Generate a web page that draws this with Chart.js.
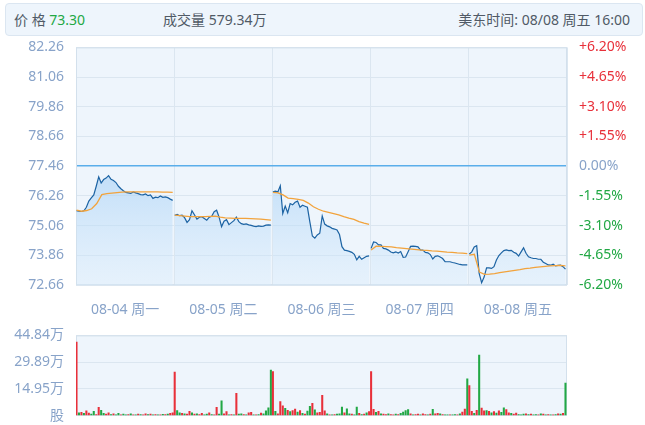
<!DOCTYPE html>
<html>
<head>
<meta charset="utf-8">
<script src="https://cdn.jsdelivr.net/npm/chart.js@4.4.1/dist/chart.umd.min.js"></script>
<style>
body{margin:0;background:#fff;font-family:"Noto Sans","Noto Sans CJK SC",sans-serif;}
#wrap{position:relative;width:645px;height:425px;overflow:hidden;}
#head{position:absolute;left:5px;top:3px;width:636px;height:31px;background:#eef5fc;border:1px solid #dbe6f1;border-radius:4px;font-size:14px;color:#505a66;line-height:31px;}
#head span{position:absolute;top:0;white-space:nowrap;}
.up{color:#e8303a}.dn{color:#22a845}
#price{position:absolute;left:0;top:27px;}
#vol{position:absolute;left:0;top:315px;}
</style>
</head>
<body>
<div id="wrap">
  <div id="head">
    <span style="left:8px">价 格 <b class="dn" style="font-weight:normal">73.30</b></span>
    <span style="left:157px">成交量 579.34万</span>
    <span style="right:12px">美东时间: 08/08 周五 16:00</span>
  </div>
  <canvas id="price" width="645" height="298"></canvas>
  <canvas id="vol" width="645" height="121"></canvas>
</div>
<script>
// 기본 데이터
const prevClose = 77.46;
const dayLabels = ['08-04 周一', '08-05 周二', '08-06 周三', '08-07 周四', '08-08 周五'];
const yTicks = [72.66, 73.86, 75.06, 76.26, 77.46, 78.66, 79.86, 81.06, 82.26];
const volTicks = [0, 14.95, 29.89, 44.84];

// 분시 가격 (일별)
const day1Price = [75.66, 75.64, 75.63, 75.66, 75.80, 76.05, 76.18, 76.30, 76.65, 77.03,
  76.78, 76.92, 76.98, 77.08, 76.93, 76.88, 76.80, 76.65, 76.55, 76.47,
  76.40, 76.38, 76.36, 76.42, 76.38, 76.35, 76.31, 76.30, 76.34, 76.27,
  76.30, 76.16, 76.21, 76.19, 76.26, 76.20, 76.22, 76.19, 76.13, 76.08];
const day2Price = [75.48, 75.51, 75.46, 75.48, 75.38, 75.19, 75.30, 75.66, 75.50, 75.32,
  75.40, 75.42, 75.35, 75.28, 75.40, 75.44, 75.62, 75.68, 75.40, 75.02,
  75.24, 75.30, 75.10, 75.18, 75.26, 75.40, 75.22, 75.14, 75.11, 75.13,
  75.09, 75.07, 75.04, 75.02, 75.05, 75.03, 75.04, 75.08, 75.09, 75.08];
const day3Price = [76.42, 76.45, 76.42, 76.67, 75.55, 75.85, 75.58, 75.95, 75.90, 76.00,
  76.05, 75.80, 75.88, 75.84, 75.80, 75.20, 74.64, 74.55, 74.68, 74.75,
  75.45, 75.12, 75.05, 75.01, 74.95, 74.92, 74.88, 74.70, 74.21, 74.07,
  74.05, 74.02, 73.98, 73.90, 73.68, 73.82, 73.70, 73.76, 73.82, 73.84];
const day4Price = [74.14, 74.40, 74.38, 74.28, 74.28, 74.14, 74.12, 74.07, 73.99, 73.96,
  74.00, 73.95, 74.01, 73.78, 73.79, 74.00, 74.22, 74.23, 74.22, 74.20,
  74.08, 74.07, 73.98, 73.96, 73.89, 73.71, 73.82, 73.84, 73.79, 73.73,
  73.60, 73.60, 73.60, 73.57, 73.55, 73.52, 73.49, 73.47, 73.47, 73.47];
const day5Price = [73.91, 74.00, 74.20, 74.25, 73.13, 72.75, 72.98, 73.35, 73.35, 73.33,
  73.40, 73.67, 73.85, 73.96, 74.05, 74.08, 74.05, 74.06, 73.98, 73.94,
  73.83, 74.00, 74.16, 73.94, 73.80, 73.76, 73.73, 73.73, 73.70, 73.70,
  73.58, 73.53, 73.47, 73.46, 73.50, 73.43, 73.45, 73.46, 73.40, 73.30];

// 균가선
const day1Avg = [75.69, 75.64, 75.67, 75.74, 75.95, 76.31, 76.35, 76.37, 76.39, 76.41,
  76.42, 76.42, 76.42, 76.42, 76.42, 76.42, 76.42, 76.41, 76.41, 76.40];
const day2Avg = [75.48, 75.46, 75.44, 75.42, 75.42, 75.42, 75.42, 75.43, 75.44, 75.40,
  75.37, 75.36, 75.35, 75.35, 75.35, 75.34, 75.33, 75.32, 75.30, 75.28];
const day3Avg = [76.40, 76.38, 76.30, 76.17, 76.15, 76.12, 76.08, 75.97, 75.82, 75.72,
  75.64, 75.59, 75.54, 75.49, 75.42, 75.36, 75.31, 75.22, 75.16, 75.11];
const day4Avg = [74.07, 74.23, 74.22, 74.21, 74.20, 74.17, 74.15, 74.13, 74.11, 74.09,
  74.07, 74.06, 74.04, 74.03, 74.01, 73.99, 73.98, 73.96, 73.95, 73.93];
const day5Avg = [73.87, 73.90, 73.18, 73.09, 73.10, 73.12, 73.16, 73.19, 73.22, 73.25,
  73.28, 73.32, 73.34, 73.37, 73.39, 73.41, 73.43, 73.44, 73.45, 73.43];

// 거래량(万) 과 방향 r=상승 g=하락
const day1Vol = [41.1, 1.5, 1.8, 1.2, 2.6, 1.4, 0.8, 2.4, 0.6, 4.6, 3.0, 1.2, 0.8, 1.5, 0.6, 1.0, 0.5, 1.2, 0.4, 0.8,
  0.5, 0.6, 1.0, 0.4, 0.5, 0.8, 0.6, 0.5, 1.0, 0.6, 0.8, 0.5, 0.6, 0.4, 0.5, 0.7, 0.6, 0.8, 1.2, 1.5];
const day2Vol = [24.4, 2.8, 1.5, 1.2, 1.0, 0.8, 2.4, 1.5, 0.8, 1.0, 0.6, 1.2, 0.5, 0.8, 1.5, 0.6, 0.5, 4.6, 0.8, 8.2,
  1.0, 2.2, 0.5, 0.6, 0.4, 12.4, 0.8, 1.0, 0.6, 0.4, 1.5, 1.8, 0.5, 0.4, 0.6, 1.4, 1.0, 2.6, 4.4, 25.4];
const day3Vol = [24.6, 2.4, 1.0, 7.8, 5.5, 4.0, 3.0, 2.2, 2.8, 3.6, 2.0, 2.8, 1.2, 0.8, 2.5, 5.2, 6.8, 3.2, 1.5, 1.8,
  11.4, 2.6, 1.0, 0.5, 0.4, 0.6, 0.8, 1.0, 4.8, 1.5, 3.8, 1.0, 0.8, 0.5, 4.8, 1.2, 0.6, 0.8, 1.5, 2.2];
const day4Vol = [24.6, 3.5, 1.8, 2.4, 1.0, 0.8, 0.6, 1.0, 0.6, 0.5, 0.8, 0.6, 1.2, 2.0, 2.8, 3.4, 1.0, 0.5, 0.6, 0.8,
  0.5, 1.0, 0.6, 0.4, 0.8, 3.5, 1.0, 1.2, 1.0, 0.6, 0.5, 0.4, 0.5, 0.4, 0.6, 0.5, 1.0, 2.0, 3.6, 20.6];
const day5Vol = [16.8, 2.4, 1.2, 3.0, 33.9, 4.2, 2.6, 2.8, 2.4, 1.6, 2.2, 1.4, 2.6, 1.8, 4.4, 3.4, 1.6, 1.2, 0.8, 1.4,
  0.6, 0.5, 0.8, 1.0, 0.6, 0.8, 0.4, 0.6, 0.5, 1.0, 0.8, 0.4, 0.6, 0.5, 0.4, 0.6, 1.0, 0.8, 1.2, 18.2];
const day1Dir = 'rgrgrrggrrggrrgrggrggrgrgrgrrgrgrgrgrgrr';
const day2Dir = 'rggrgrrgrgrrggrgrrggrrgrgrggrgrrgrgrgggg';
const day3Dir = 'rgrrrgrgrrgrgrggrgrrrrgrgrgggrggrggrgrgr';
const day4Dir = 'rrgrgrrgrrgrggggrgrrgrrgrgrrgrggrggrgrrg';
const day5Dir = 'rrgrgrrgrgrgrggrrgrrgggrgrggrgrgrgrgrgrg';

const DAY = 390;
const FONT = { family: "'Noto Sans', 'Noto Sans CJK SC', sans-serif", size: 14 };
const LABEL = '#88a3c9';
const GRID = '#dbe6f0';
const RED = '#e8303a';
const GREEN = '#22a845';

const prices = [day1Price, day2Price, day3Price, day4Price, day5Price];
const avgs = [day1Avg, day2Avg, day3Avg, day4Avg, day5Avg];
const vols = [day1Vol, day2Vol, day3Vol, day4Vol, day5Vol];
const dirs = [day1Dir, day2Dir, day3Dir, day4Dir, day5Dir];

// 하루 안에서 점 위치(분)
function toPoints(days) {
  const out = [];
  days.forEach((arr, d) => {
    arr.forEach((v, i) => out.push({ x: d * DAY + 2 + i * 382 / (arr.length - 1), y: v }));
    out.push({ x: d * DAY + 389, y: null });
  });
  return out;
}
const volPoints = [], volColors = [];
vols.forEach((arr, d) => {
  arr.forEach((v, i) => {
    volPoints.push({ x: d * DAY + 2 + i * 382 / (arr.length - 1), y: v });
    volColors.push(dirs[d][i] === 'r' ? RED : GREEN);
  });
});

const plotBg = {
  id: 'plotBg',
  beforeDraw(chart) {
    const a = chart.chartArea, c = chart.ctx;
    c.save();
    c.fillStyle = '#eef5fc';
    c.fillRect(a.left, a.top, a.right - a.left, a.bottom - a.top);
    c.restore();
  },
  beforeDatasetsDraw(chart) {
    const a = chart.chartArea, c = chart.ctx;
    c.save();
    c.strokeStyle = '#d3e0ec';
    c.lineWidth = 1;
    c.strokeRect(a.left + 0.5, a.top + 0.5, a.right - a.left - 1, a.bottom - a.top - 1);
    c.restore();
  }
};

const xTickVals = [];
for (let v = 0; v <= DAY * 5; v += DAY / 2) xTickVals.push(v);

new Chart(document.getElementById('price'), {
  type: 'line',
  data: {
    datasets: [{
      label: 'avg',
      data: toPoints(avgs),
      borderColor: '#f2a33c',
      borderWidth: 1.3,
      pointRadius: 0,
      fill: false
    }, {
      label: 'price',
      data: toPoints(prices),
      borderColor: '#1c63a3',
      borderWidth: 1.2,
      pointRadius: 0,
      fill: 'start',
      backgroundColor: (ctx) => {
        const a = ctx.chart.chartArea;
        if (!a) return 'rgba(180,215,245,0.5)';
        const g = ctx.chart.ctx.createLinearGradient(0, a.top + 120, 0, a.bottom);
        g.addColorStop(0, 'rgba(160,205,245,0.6)');
        g.addColorStop(1, 'rgba(215,235,252,0.35)');
        return g;
      }
    }]
  },
  options: {
    responsive: false,
    animation: false,
    devicePixelRatio: 1,
    layout: { padding: 0 },
    plugins: { legend: { display: false }, tooltip: { enabled: false } },
    scales: {
      x: {
        type: 'linear', min: 0, max: DAY * 5,
        afterBuildTicks: (s) => { s.ticks = xTickVals.map(v => ({ value: v })); },
        grid: {
          color: (c) => (c.tick && c.tick.value % DAY === 0) ? GRID : 'rgba(0,0,0,0)',
          drawTicks: false
        },
        border: { display: false },
        ticks: {
          autoSkip: false, maxRotation: 0, padding: 17, color: LABEL, font: FONT,
          callback: (v) => (v % DAY === DAY / 2) ? dayLabels[(v - DAY / 2) / DAY] : ''
        },
        afterFit: (s) => { s.height = 40; }
      },
      y: {
        position: 'left', min: yTicks[0], max: yTicks[yTicks.length - 1],
        afterBuildTicks: (s) => { s.ticks = yTicks.map(v => ({ value: v })); },
        grid: {
          color: (c) => (c.tick && Math.abs(c.tick.value - prevClose) < 1e-6) ? '#5aaeea' : GRID,
          lineWidth: (c) => (c.tick && Math.abs(c.tick.value - prevClose) < 1e-6) ? 1.5 : 1,
          drawTicks: false
        },
        border: { display: false },
        ticks: { padding: 12, color: LABEL, font: FONT, callback: (v) => v.toFixed(2) },
        afterFit: (s) => { s.width = 76; }
      },
      y2: {
        position: 'right', min: yTicks[0], max: yTicks[yTicks.length - 1],
        afterBuildTicks: (s) => { s.ticks = yTicks.map(v => ({ value: v })); },
        grid: { display: false, drawTicks: false },
        border: { display: false },
        ticks: {
          padding: 12, font: FONT,
          color: (c) => {
            const d = c.tick.value - prevClose;
            return Math.abs(d) < 1e-6 ? LABEL : (d > 0 ? RED : GREEN);
          },
          callback: (v) => {
            const p = (v - prevClose) / prevClose * 100;
            return (p > 0.001 ? '+' : '') + p.toFixed(2) + '%';
          }
        },
        afterFit: (s) => { s.width = 78; }
      }
    }
  },
  plugins: [plotBg]
});

new Chart(document.getElementById('vol'), {
  type: 'bar',
  data: {
    datasets: [{
      label: 'vol',
      data: volPoints,
      backgroundColor: volColors,
      barThickness: 1.4,
      borderWidth: 0
    }]
  },
  options: {
    responsive: false,
    animation: false,
    devicePixelRatio: 1,
    layout: { padding: { top: 0, left: 0, right: 78, bottom: 0 } },
    plugins: { legend: { display: false }, tooltip: { enabled: false } },
    scales: {
      x: { type: 'linear', min: 0, max: DAY * 5, offset: false, display: false },
      y: {
        position: 'left', min: 0, max: volTicks[volTicks.length - 1],
        afterBuildTicks: (s) => { s.ticks = volTicks.map(v => ({ value: v })); },
        grid: { color: GRID, drawTicks: false },
        border: { display: false },
        ticks: {
          padding: 12, color: LABEL, font: FONT,
          callback: (v) => v === 0 ? '股' : v.toFixed(2) + '万'
        },
        afterFit: (s) => { s.width = 76; }
      }
    }
  },
  plugins: [plotBg]
});
</script>
</body>
</html>
